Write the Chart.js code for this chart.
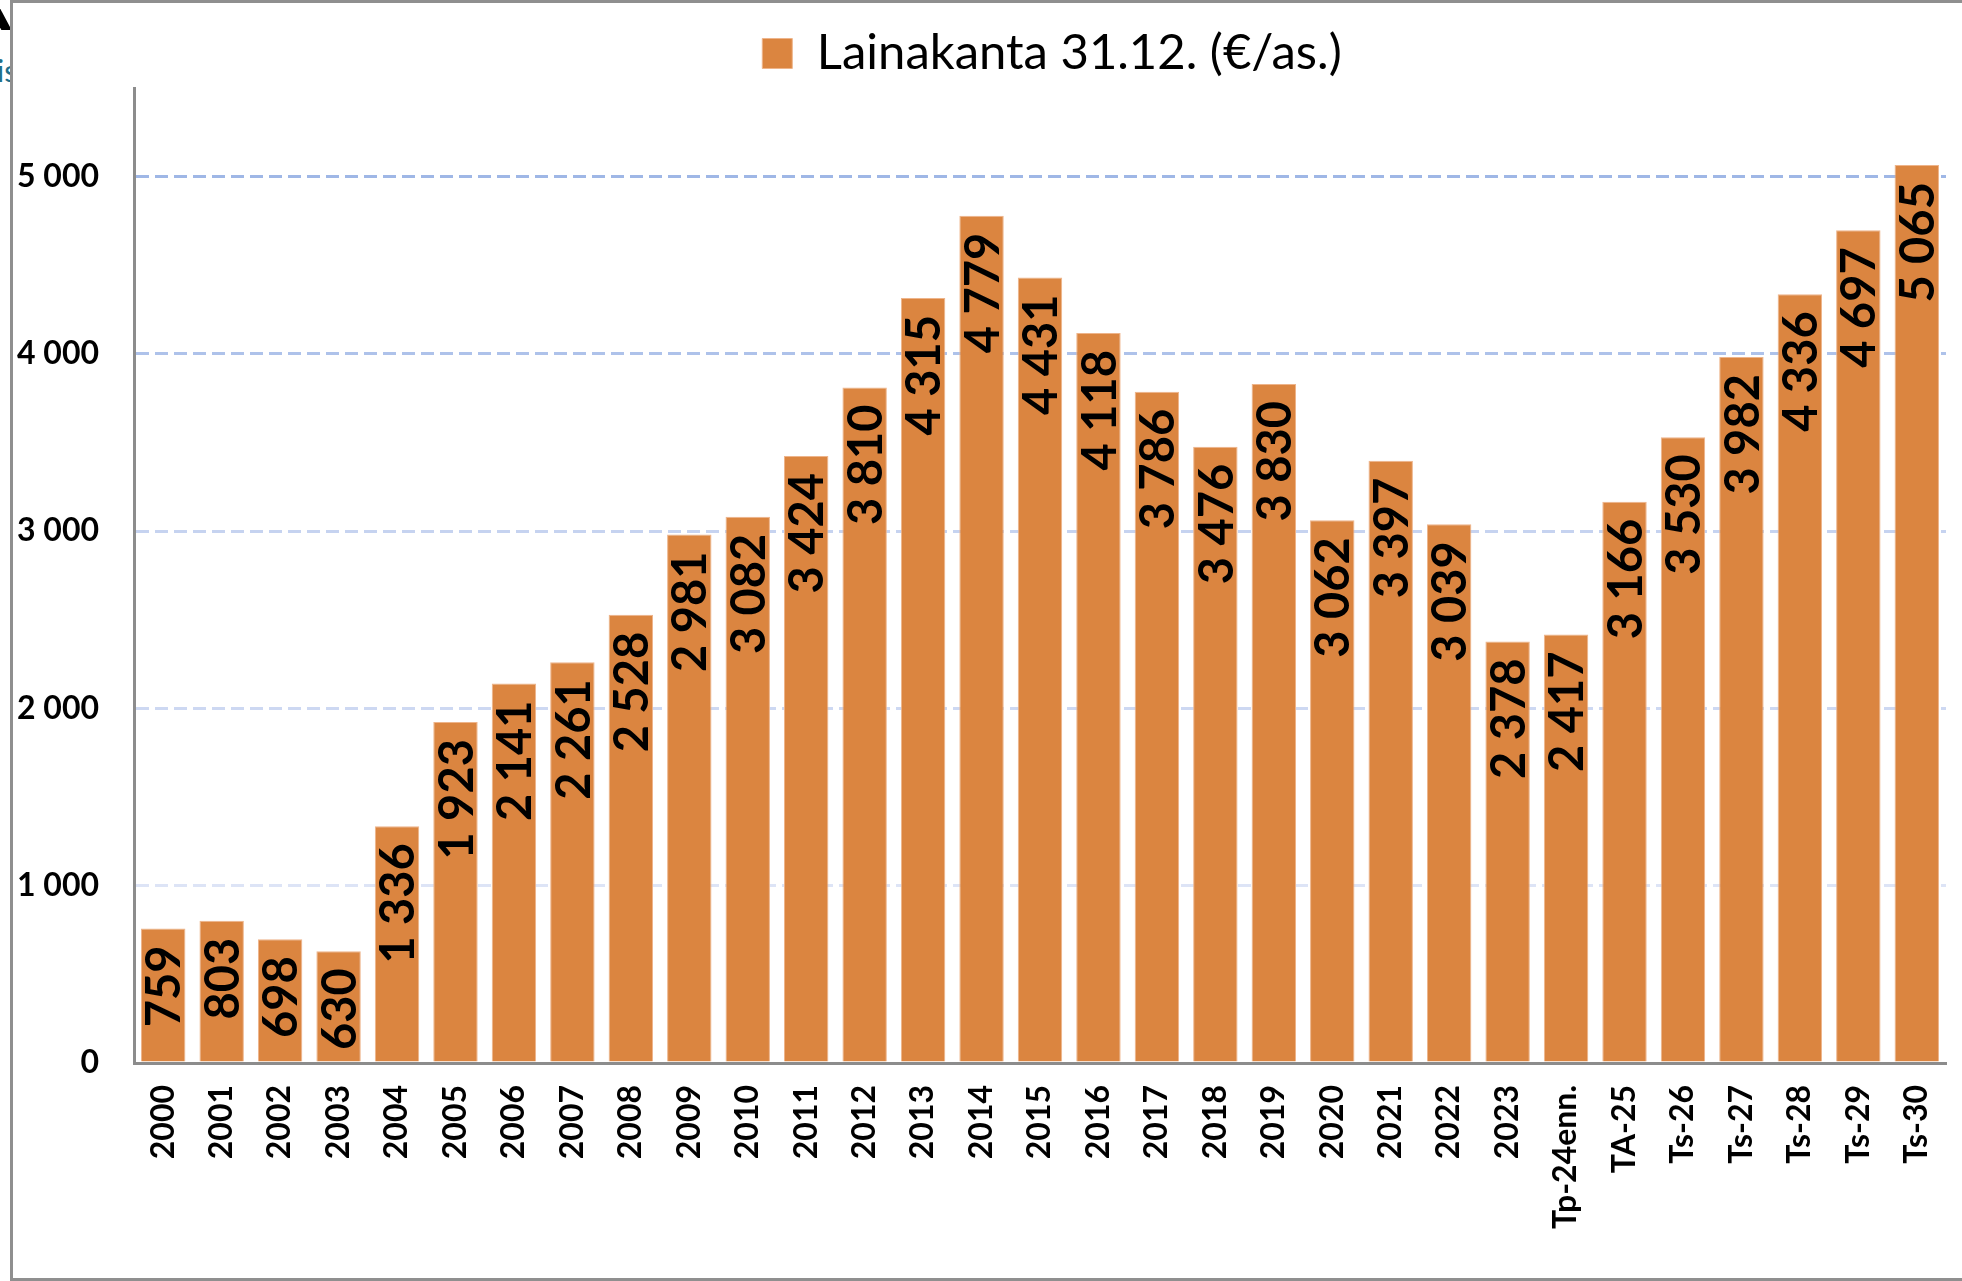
<!DOCTYPE html>
<html>
<head>
<meta charset="utf-8">
<script src="https://cdn.jsdelivr.net/npm/chart.js@4/dist/chart.umd.min.js"></script>
<style>
  html, body { margin: 0; padding: 0; background: #fff; overflow: hidden; }
  #wrap { position: relative; width: 1962px; height: 1281px; }
  #frame { position: absolute; left: 10px; top: 0px; width: 1990px; height: 1275px;
           border: 3px solid #8f8f8f; box-sizing: content-box; pointer-events: none; }
  #corner { position: absolute; left: 0; top: 0; width: 10px; height: 30px; overflow: hidden; }
  #corner div { position: absolute; left: -6px; top: -6px; width: 9px; height: 42px; background: #000; transform: rotate(-28deg); }
  #side { position: absolute; left: 0; top: 52px; width: 10px; height: 36px; overflow: hidden; }
  #side span { position: absolute; left: -3px; top: 0; font: 30px Lato, sans-serif; color: #1f6f8b; }
  canvas { position: absolute; left: 0; top: 0; }
</style>
</head>
<body>
<div id="wrap">
  <div id="corner"><div></div></div>
  <div id="side"><span>is</span></div>
  <canvas id="c" width="1962" height="1281"></canvas>
  <div id="frame"></div>
</div>
<script>
const categories = ['2000','2001','2002','2003','2004','2005','2006','2007','2008','2009',
  '2010','2011','2012','2013','2014','2015','2016','2017','2018','2019',
  '2020','2021','2022','2023','Tp-24enn.','TA-25','Ts-26','Ts-27','Ts-28','Ts-29','Ts-30'];
const lainakanta = [759, 803, 698, 630, 1336, 1923, 2141, 2261, 2528, 2981,
  3082, 3424, 3810, 4315, 4779, 4431, 4118, 3786, 3476, 3830,
  3062, 3397, 3039, 2378, 2417, 3166, 3530, 3982, 4336, 4697, 5065];
const seriesLabel = 'Lainakanta 31.12. (€/as.)';
const yTicks = [0, 1000, 2000, 3000, 4000, 5000];

function fmt(v) {
  return String(Math.round(v)).replace(/\B(?=(\d{3})+(?!\d))/g, ' ');
}

const gridColors = {1000: '#dde4f6', 2000: '#cdd8f2', 3000: '#c6d3f0', 4000: '#aec2ea', 5000: '#9fb7e6'};

const valueLabels = {
  id: 'valueLabels',
  afterDatasetsDraw(chart) {
    const ctx = chart.ctx;
    const meta = chart.getDatasetMeta(0);
    const data = chart.data.datasets[0].data;
    ctx.save();
    ctx.font = 'bold 47px Lato, sans-serif';
    ctx.fillStyle = '#000';
    ctx.textAlign = 'right';
    ctx.textBaseline = 'middle';
    meta.data.forEach((bar, i) => {
      ctx.save();
      ctx.translate(bar.x + 2, bar.y + 17);
      ctx.rotate(-Math.PI / 2);
      ctx.fillText(fmt(data[i]), 0, 0);
      ctx.restore();
    });
    ctx.restore();
  }
};

const legendShift = {
  id: 'legendShift',
  afterLayout(chart) {
    if (chart.legend) {
      chart.legend.left += 79;
      chart.legend.right += 79;
    }
  }
};

new Chart(document.getElementById('c'), {
  type: 'bar',
  data: {
    labels: categories,
    datasets: [{
      label: seriesLabel,
      data: lainakanta,
      backgroundColor: '#db8540',
      borderColor: '#eeb48a',
      borderWidth: 1,
      categoryPercentage: 1.0,
      barPercentage: 0.76
    }]
  },
  options: {
    responsive: false,
    animation: false,
    layout: { padding: { top: 19, left: 0, right: 16, bottom: 0 } },
    plugins: {
      tooltip: { enabled: false },
      legend: {
        position: 'top',
        labels: {
          boxWidth: 30,
          boxHeight: 30,
          padding: 10,
          color: '#000',
          font: { family: 'Lato, sans-serif', size: 49 }
        }
      }
    },
    scales: {
      x: {
        grid: { display: false, drawTicks: false, tickLength: 0 },
        border: { display: true, color: '#8c8c8c', width: 3 },
        ticks: {
          minRotation: 90, maxRotation: 90, autoSkip: false,
          padding: 22, color: '#000',
          font: { family: 'Lato, sans-serif', size: 32, weight: 'bold' }
        },
        afterFit(scale) { scale.height = 218; scale.paddingRight = 0; }
      },
      y: {
        min: 0, max: 5500,
        afterBuildTicks(scale) { scale.ticks = yTicks.map(v => ({ value: v })); },
        grid: {
          drawTicks: false, tickLength: 0,
          color: (c) => c.tick && c.tick.value ? gridColors[c.tick.value] || '#c6d3f0' : 'rgba(0,0,0,0)',
          lineWidth: 3
        },
        border: { display: true, color: '#8c8c8c', width: 3, dash: [13, 6] },
        ticks: {
          padding: 35, color: '#000',
          font: { family: 'Lato, sans-serif', size: 32, weight: 'bold' },
          callback: (v) => fmt(v)
        },
        afterFit(scale) { scale.width = 134; }
      }
    }
  },
  plugins: [valueLabels, legendShift]
});
</script>
</body>
</html>
